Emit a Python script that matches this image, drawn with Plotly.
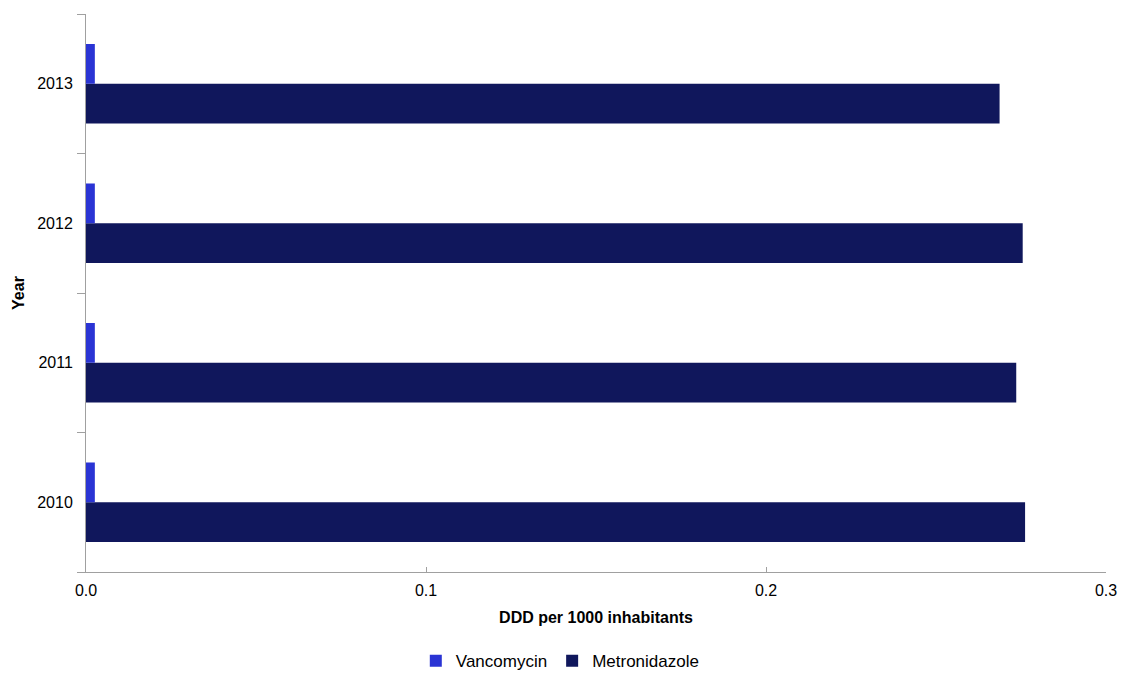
import plotly.graph_objects as go

years = ["2010", "2011", "2012", "2013"]
vancomycin = [0.0026, 0.0026, 0.0026, 0.0026]
metronidazole = [0.2762, 0.2736, 0.2755, 0.2687]
x_ticks = [0.0, 0.1, 0.2, 0.3]

fig = go.Figure()
fig.add_trace(go.Bar(y=years, x=metronidazole, name="Metronidazole", orientation="h",
                     marker=dict(color="#10175C", line=dict(width=0)), legendrank=2))
fig.add_trace(go.Bar(y=years, x=vancomycin, name="Vancomycin", orientation="h",
                     marker=dict(color="#2A34D4", line=dict(width=0)), legendrank=1))

fig.update_layout(
    width=1121, height=673,
    margin=dict(l=86, r=15, t=14, b=101, autoexpand=False),
    paper_bgcolor="white", plot_bgcolor="white",
    barmode="group", bargap=0.43, bargroupgap=0,
    font=dict(family="Liberation Sans, Arial, sans-serif", size=16, color="black"),
    showlegend=True,
    legend=dict(orientation="h", x=0.465, xanchor="center", y=-0.16, yanchor="middle",
                font=dict(size=17), itemwidth=30, traceorder="normal"),
    xaxis=dict(range=[0, 0.3], tickvals=x_ticks, tickformat=".1f", ticks="inside",
               ticklen=5, tickcolor="#A0A0A0", showline=True, linecolor="#A0A0A0",
               linewidth=1, showgrid=False, zeroline=False, automargin=False,
               ticklabelstandoff=4, ticklabeloverflow="allow",
               title=dict(text="<b>DDD per 1000 inhabitants</b>", font=dict(size=16), standoff=13)),
    yaxis=dict(categoryorder="array", categoryarray=years, ticks="outside",
               tickson="boundaries", ticklen=8, tickcolor="#A0A0A0", showline=True,
               linecolor="#A0A0A0", linewidth=1, showgrid=False, zeroline=False,
               automargin=False, ticklabelstandoff=9,
               title=dict(text="<b>Year</b>", font=dict(size=16), standoff=8)),
)

fig.write_html("out.html", config={"displayModeBar": False},
               post_script="document.body.style.margin='0';document.body.style.overflow='hidden';")
